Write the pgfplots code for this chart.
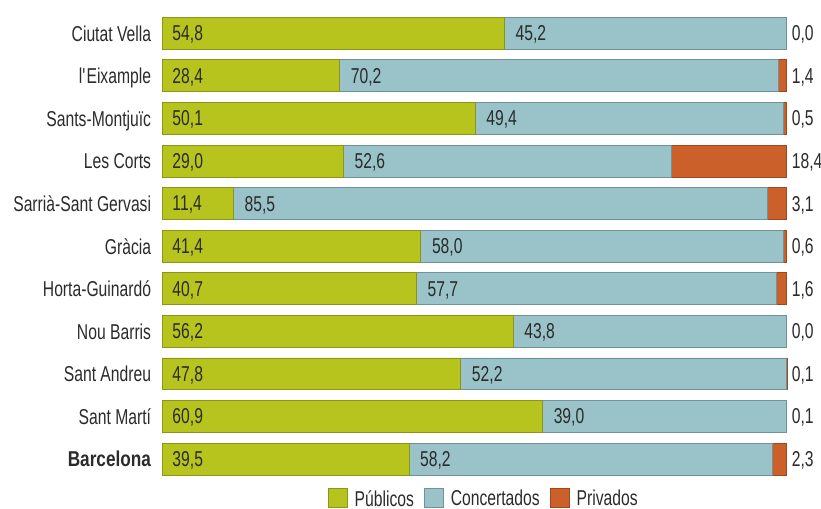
\documentclass[border=0pt]{standalone}
\usepackage{fontspec}
\setmainfont{Liberation Sans}[FakeStretch=0.73,BoldFeatures={FakeStretch=0.8}]
\usepackage{pgfplots}
\usepackage{pgfplotstable}
\pgfplotsset{compat=1.18}
\definecolor{cpub}{HTML}{B8C41E}
\definecolor{cpubd}{HTML}{8C9517}
\definecolor{cconc}{HTML}{99C3C8}
\definecolor{cconcd}{HTML}{6F9297}
\definecolor{cpriv}{HTML}{CC602A}
\definecolor{cprivd}{HTML}{A0481E}
\definecolor{txt}{HTML}{2B2B2B}

\pgfplotstableread{
idx pub conc priv
0 54.8 45.2 0.0
1 28.4 70.2 1.4
2 50.1 49.4 0.5
3 29.0 52.6 18.4
4 11.4 85.5 3.1
5 41.4 58.0 0.6
6 40.7 57.7 1.6
7 56.2 43.8 0.0
8 47.8 52.2 0.1
9 60.9 39.0 0.1
10 39.5 58.2 2.3
}\data

\begin{document}
\begin{tikzpicture}[font=\fontsize{21.5bp}{25bp}\selectfont, text=txt]
\pgfplotsset{common/.style={scale only axis, width=624.4bp, height=468.3bp,
  xmin=0, xmax=100, ymin=-0.5, ymax=10.5, y dir=reverse,
  at={(0,0)}, anchor=south west, clip=false}}
\begin{axis}[common, xbar stacked, bar width=0.75,
  axis line style={draw=none}, tick style={draw=none},
  xtick=\empty, ytick={0,...,10},
  yticklabels={Ciutat Vella, l\textquotesingle Eixample, Sants-Montjuïc, Les Corts, Sarrià-Sant Gervasi, Gràcia, Horta-Guinardó, Nou Barris, Sant Andreu, Sant Martí, \textbf{Barcelona}},
  yticklabel style={anchor=east, inner sep=0pt, text depth=0pt, xshift=-11bp, text=txt},
  legend style={draw=none, fill=none, legend columns=-1, inner sep=0pt,
    at={(axis description cs:0.514,-0.038)}, anchor=center,
    font=\fontsize{21.5bp}{25bp}\selectfont,
    nodes={inner sep=1bp, text depth=0pt},
    /tikz/every odd column/.append style={column sep=6bp},
    /tikz/every even column/.append style={column sep=9bp}},
  legend image code/.code={\draw[#1] (0bp,-9.5bp) rectangle (19bp,9.5bp);},
]
\addplot[fill=cpub, draw=cpubd, line width=0.8bp] table[x=pub, y=idx]{\data};
\addplot[fill=cconc, draw=cconcd, line width=0.8bp] table[x=conc, y=idx]{\data};
\addplot[fill=cpriv, draw=cprivd, line width=0.8bp] table[x=priv, y=idx]{\data};
\legend{Públicos, Concertados, Privados}
\end{axis}
\begin{axis}[common, hide axis, point meta=explicit,
  nodes near coords={\pgfmathprintnumber[fixed,fixed zerofill,precision=1,use comma,assume math mode=true]{\pgfplotspointmeta}},
  every node near coord/.append style={anchor=west, inner sep=0pt, text depth=0pt, text=txt, font=\fontsize{21.5bp}{25bp}\selectfont},
]
\addplot[draw=none, every node near coord/.append style={xshift=10bp}] table[x expr=0, y=idx, meta=pub]{\data};
\addplot[draw=none, every node near coord/.append style={xshift=11bp}] table[x=pub, y=idx, meta=conc]{\data};
\addplot[draw=none, every node near coord/.append style={xshift=5bp}] table[x expr=100, y=idx, meta=priv]{\data};
\end{axis}
\pgfresetboundingbox
\path (-162.3bp,-28.7bp) rectangle (658.7bp,480.3bp);
\end{tikzpicture}
\end{document}
